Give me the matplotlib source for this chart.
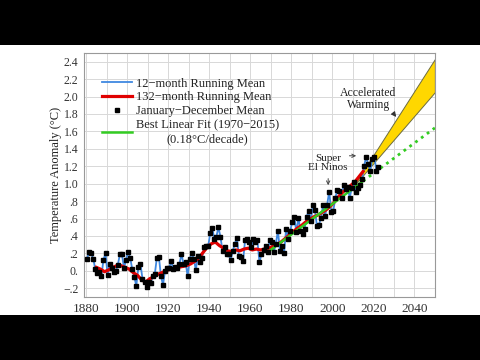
import matplotlib
matplotlib.use("Agg")
import matplotlib.pyplot as plt
import matplotlib.patches as mpatches
import numpy as np

# annual (January-December) means, 1880-2022
years = list(range(1880, 2023))
annual = [0.14, 0.22, 0.20, 0.14, 0.02, -0.03, -0.01, -0.06, 0.13, 0.20,
          -0.05, 0.08, 0.03, -0.01, 0.00, 0.07, 0.19, 0.19, 0.03, 0.13,
          0.22, 0.15, 0.02, -0.07, -0.17, 0.04, 0.08, -0.09, -0.13, -0.18,
          -0.13, -0.14, -0.06, -0.04, 0.15, 0.16, -0.06, -0.16, 0.00, 0.03,
          0.03, 0.11, 0.02, 0.04, 0.03, 0.08, 0.19, 0.08, 0.10, -0.06,
          0.14, 0.20, 0.14, 0.01, 0.17, 0.10, 0.15, 0.27, 0.29, 0.28,
          0.43, 0.49, 0.37, 0.39, 0.50, 0.39, 0.23, 0.27, 0.19, 0.19,
          0.13, 0.23, 0.31, 0.38, 0.17, 0.16, 0.11, 0.35, 0.36, 0.33,
          0.27, 0.36, 0.33, 0.35, 0.10, 0.19, 0.24, 0.28, 0.22, 0.35,
          0.33, 0.22, 0.31, 0.46, 0.23, 0.29, 0.20, 0.48, 0.37, 0.46,
          0.56, 0.62, 0.44, 0.61, 0.46, 0.42, 0.48, 0.62, 0.69, 0.57,
          0.75, 0.70, 0.52, 0.53, 0.61, 0.75, 0.63, 0.76, 0.91, 0.68,
          0.69, 0.84, 0.93, 0.92, 0.83, 0.98, 0.94, 0.96, 0.84, 0.95,
          1.02, 0.91, 0.95, 0.98, 1.05, 1.20, 1.31, 1.22, 1.15, 1.28,
          1.31, 1.15, 1.19]

# 132-month running mean
red_years = list(range(1885, 2016, 2))
red_vals = [0.04, 0.02, -0.01, 0.01, 0.04, 0.06, 0.06, 0.04, 0.02, -0.02,
            -0.05, -0.10, -0.13, -0.09, -0.07, -0.04, -0.02, 0.00, 0.02, 0.03,
            0.04, 0.05, 0.06, 0.08, 0.11, 0.15, 0.21, 0.27, 0.31, 0.33,
            0.29, 0.26, 0.23, 0.22, 0.24, 0.23, 0.25, 0.26, 0.24, 0.25,
            0.24, 0.25, 0.26, 0.28, 0.30, 0.33, 0.37, 0.41, 0.45, 0.49,
            0.52, 0.56, 0.59, 0.62, 0.64, 0.67, 0.70, 0.74, 0.79, 0.85,
            0.90, 0.94, 0.98, 1.02, 1.08, 1.14]

# best linear fit 1970-2015 and its extension
fit_years = [1970, 2015]
fit_vals = [0.24, 1.03]
ext_years = [2015, 2050]
ext_vals = [1.03, 1.64]

# accelerated warming wedge
wedge_years = [2010, 2050]
wedge_low = [0.96, 2.05]
wedge_high = [0.96, 2.43]

plt.rcParams['font.family'] = ['Liberation Serif', 'DejaVu Serif']

fig = plt.figure(figsize=(4.8, 3.6), dpi=100)
fig.patch.set_facecolor('white')
ax = fig.add_axes([0.175, 0.175, 0.731, 0.678])

ax.set_xlim(1879, 2050)
ax.set_ylim(-0.3, 2.5)

yt = [-0.2, 0, 0.2, 0.4, 0.6, 0.8, 1.0, 1.2, 1.4, 1.6, 1.8, 2.0, 2.2, 2.4]
ylab = ['\u2212.2', '0.', '.2', '.4', '.6', '.8', '1.0', '1.2', '1.4', '1.6', '1.8', '2.0', '2.2', '2.4']
ax.set_yticks(yt)
ax.set_yticklabels(ylab)
xt = list(range(1880, 2041, 20))
ax.set_xticks(xt)
ax.set_xticks(list(range(1880, 2051, 10)), minor=True)
ax.tick_params(axis='both', which='both', length=0, colors='#333333', pad=4)
ax.tick_params(axis='y', labelsize=8.5)
ax.tick_params(axis='x', labelsize=9.5)
ax.grid(True, which='both', color='#d8d8d8', lw=0.7)
ax.set_axisbelow(True)
for s in ax.spines.values():
    s.set_color('#999999')
    s.set_linewidth(0.8)

# blank out grid in the extension area
ax.add_patch(mpatches.Rectangle((2010, -0.3), 40, 1.75, facecolor='white',
                                edgecolor='none', zorder=0.5))

ax.fill_between(wedge_years, wedge_low, wedge_high, facecolor='#ffd700',
                edgecolor='#6b6b40', lw=0.7, zorder=1)

ax.plot(np.array(years) + 0.5, annual, color='#3f88e0', lw=1.3, zorder=2,
        label='12\u2212month Running Mean')
ax.plot(red_years, red_vals, color='#e00000', lw=2.3, zorder=3,
        label='132\u2212month Running Mean')
ax.plot(np.array(years) + 0.5, annual, ls='none', marker='s', ms=2.9,
        color='black', zorder=4, label='January\u2212December Mean')
ax.plot(fit_years, fit_vals, color='#33cc22', lw=1.8, zorder=3.5,
        label='Best Linear Fit (1970\u22122015)\n(0.18\u00b0C/decade)')
ax.plot(ext_years, ext_vals, color='#33cc22', lw=2.0, ls=(0, (1, 1.6)), zorder=3.5)

leg = ax.legend(loc='upper left', bbox_to_anchor=(0.026, 0.935), frameon=False,
                fontsize=9, handlelength=2.4, handletextpad=0.3,
                labelspacing=0.15, borderaxespad=0.3)
for t in leg.get_texts():
    t.set_multialignment('center')
    t.set_color('#222222')

ax.text(2017.5, 1.97, 'Accelerated\nWarming', ha='center', va='center',
        fontsize=8.5, color='#222222', linespacing=1.0)
ax.annotate('', xy=(2032, 1.74), xytext=(2029, 1.83),
            arrowprops=dict(arrowstyle='-|>', color='#333333', lw=0.8,
                            mutation_scale=7))

ax.text(1998, 1.24, 'Super\nEl Ninos', ha='center', va='center',
        fontsize=8, color='#222222', linespacing=1.0)
ax.annotate('', xy=(2013, 1.32), xytext=(2007, 1.32),
            arrowprops=dict(arrowstyle='->', color='#444444', lw=0.7,
                            mutation_scale=6))
ax.annotate('', xy=(1998, 0.95), xytext=(1998, 1.09),
            arrowprops=dict(arrowstyle='->', color='#444444', lw=0.7,
                            mutation_scale=6))

ax.set_ylabel('Temperature Anomaly (\u00b0C)', fontsize=9, color='#222222', labelpad=1)

# letterbox bars
fig.patches.append(mpatches.Rectangle((0, 0.875), 1, 0.125, transform=fig.transFigure,
                                      facecolor='black', edgecolor='none', zorder=10))
fig.patches.append(mpatches.Rectangle((0, 0), 1, 0.125, transform=fig.transFigure,
                                      facecolor='black', edgecolor='none', zorder=10))

fig.savefig('out.png', dpi=100, facecolor='white')
